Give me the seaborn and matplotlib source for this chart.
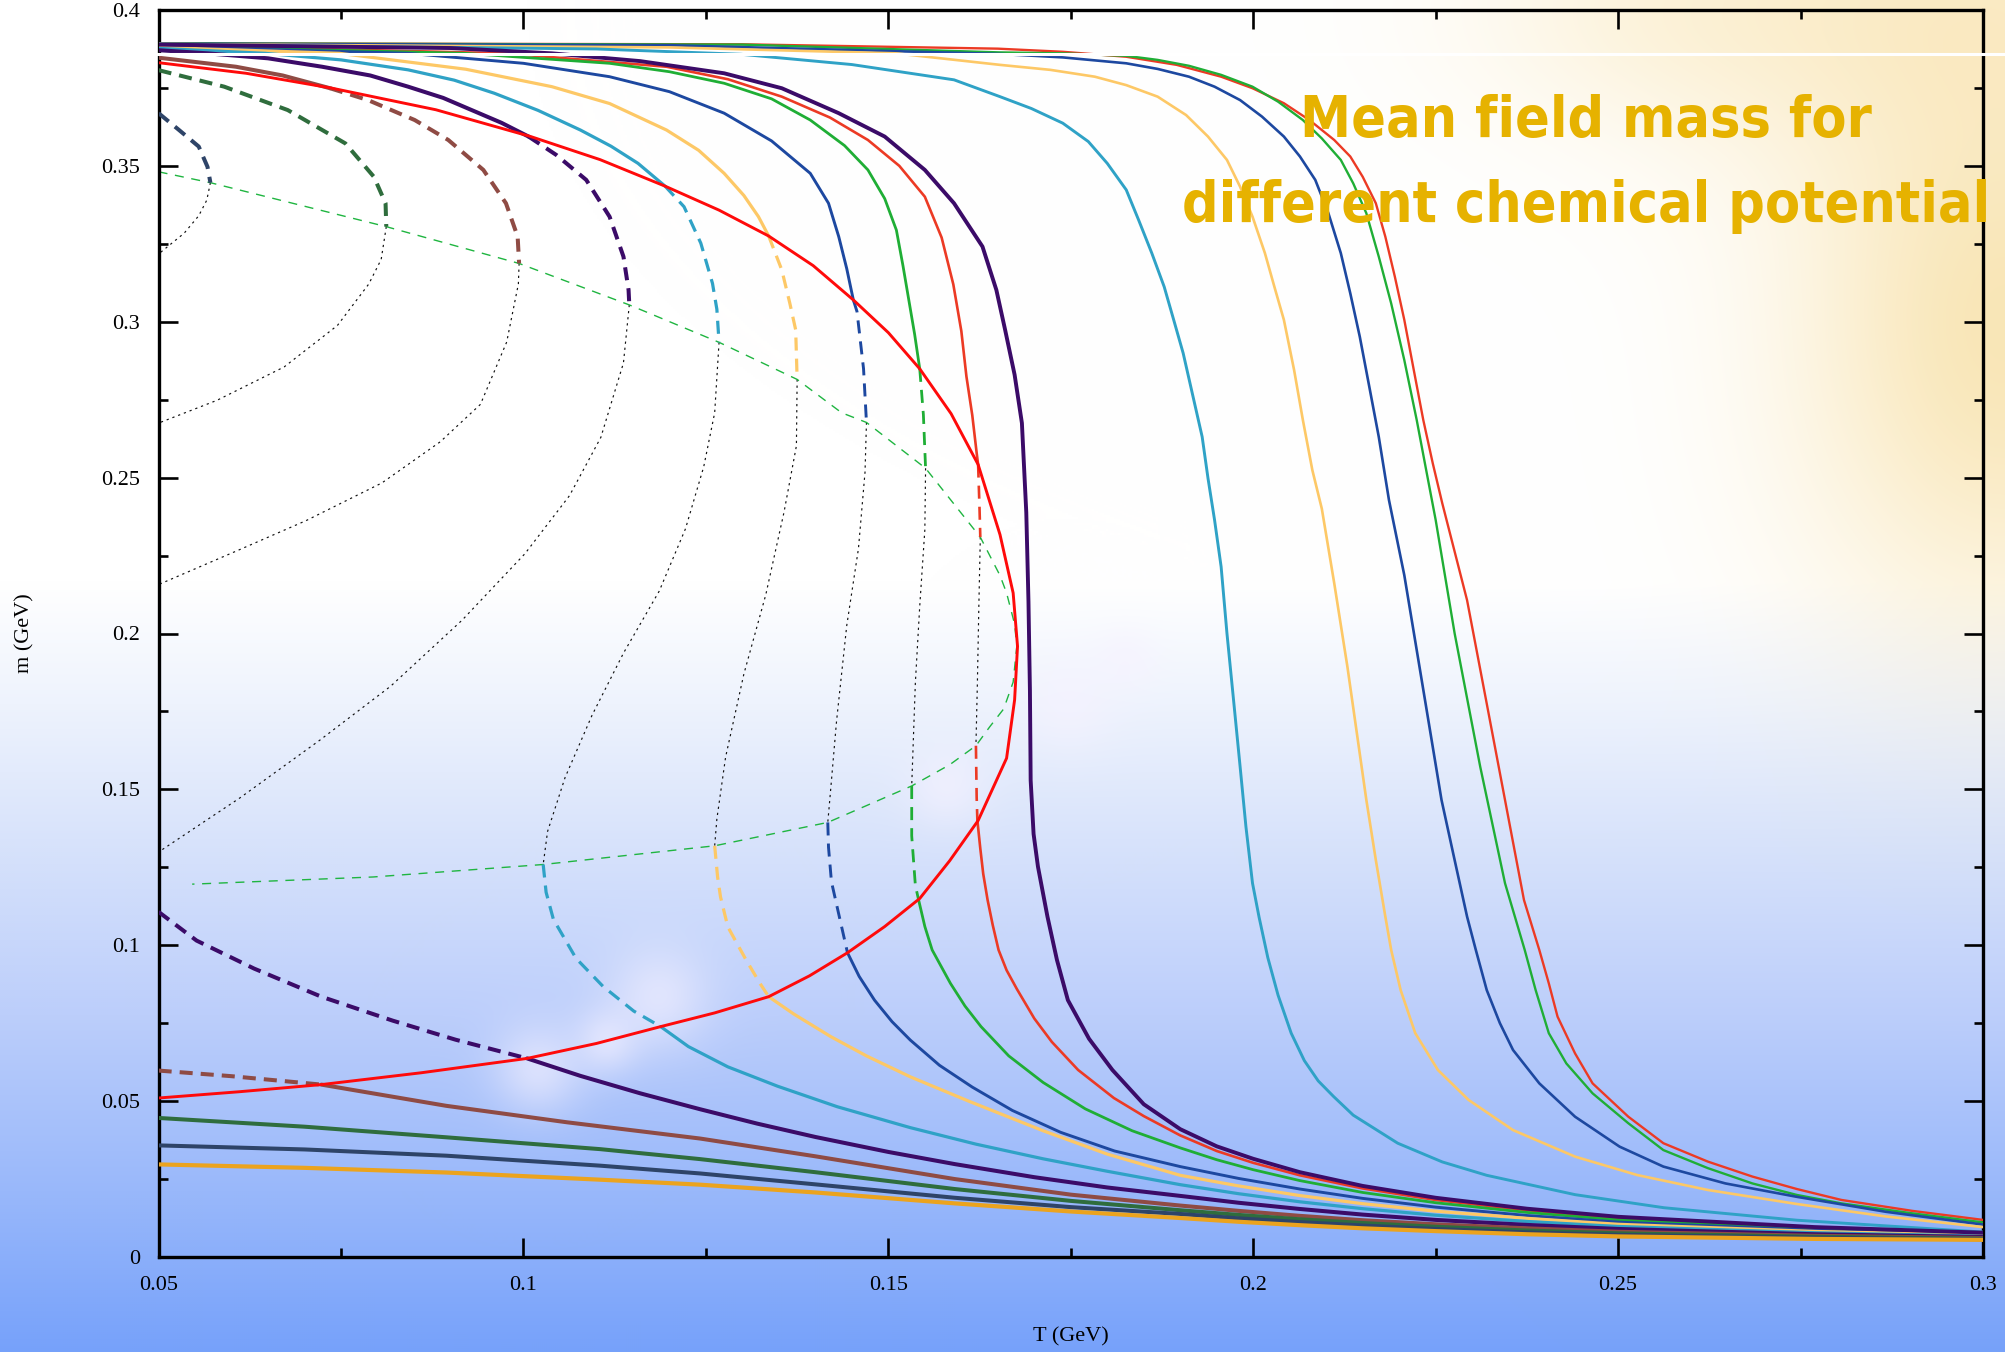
import numpy as np
import pandas as pd
import matplotlib
matplotlib.use("Agg")
import matplotlib.pyplot as plt
import seaborn as sns
from matplotlib.lines import Line2D

# ---------------------------------------------------------------------------
# Mean-field mass m(T) (GeV) for a sequence of quark chemical potentials.
# Each first-order curve is split into stable / metastable / unstable parts.
# Points are (T, m).
# ---------------------------------------------------------------------------

# crossover curves (small chemical potential)
red2 = [(0.05, 0.3893), (0.13, 0.3890), (0.165, 0.3876), (0.1739, 0.3866), (0.1826, 0.3850),
        (0.1895, 0.3824), (0.1956, 0.3786), (0.1999, 0.3749), (0.2042, 0.3701), (0.2077, 0.3647),
        (0.2111, 0.3583), (0.2133, 0.3530), (0.2150, 0.3465), (0.2168, 0.3380), (0.2181, 0.3273),
        (0.2194, 0.3145), (0.2207, 0.3006), (0.2220, 0.2845), (0.2233, 0.2685), (0.2246, 0.2546),
        (0.2259, 0.2418), (0.2293, 0.2107), (0.2319, 0.1787), (0.2345, 0.1466), (0.2371, 0.1145),
        (0.2392, 0.0985), (0.2405, 0.0878), (0.2417, 0.0771), (0.2441, 0.0653), (0.2465, 0.0557),
        (0.2514, 0.0450), (0.2562, 0.0365), (0.2623, 0.0306), (0.2684, 0.0258), (0.2745, 0.0218),
        (0.2806, 0.0183), (0.2903, 0.0148), (0.3, 0.0119)]
green2 = [(0.05, 0.3893), (0.13, 0.3889), (0.1653, 0.3864), (0.1739, 0.3861), (0.1826, 0.3853),
          (0.1869, 0.3840), (0.1912, 0.3821), (0.1956, 0.3792), (0.1999, 0.3754), (0.2034, 0.3706),
          (0.2068, 0.3647), (0.2094, 0.3588), (0.2120, 0.3519), (0.2137, 0.3444), (0.2155, 0.3348),
          (0.2172, 0.3209), (0.2189, 0.3059), (0.2207, 0.2877), (0.2224, 0.2685), (0.2237, 0.2524),
          (0.2250, 0.2364), (0.2276, 0.2000), (0.2311, 0.1573), (0.2345, 0.1199), (0.2372, 0.0985),
          (0.2387, 0.0856), (0.2405, 0.0718), (0.2429, 0.0621), (0.2465, 0.0525), (0.2514, 0.0429),
          (0.2562, 0.0343), (0.2623, 0.0285), (0.2684, 0.0236), (0.2745, 0.0199), (0.2806, 0.0172),
          (0.2903, 0.0140), (0.3, 0.0111)]
blue2 = [(0.05, 0.3892), (0.12, 0.3887), (0.1653, 0.3859), (0.1739, 0.3848), (0.1826, 0.3829),
         (0.1869, 0.3811), (0.1912, 0.3786), (0.1947, 0.3754), (0.1982, 0.3711), (0.2012, 0.3658),
         (0.2042, 0.3594), (0.2064, 0.3530), (0.2085, 0.3455), (0.2103, 0.3348), (0.2120, 0.3220),
         (0.2133, 0.3091), (0.2146, 0.2952), (0.2159, 0.2792), (0.2172, 0.2631), (0.2186, 0.2428),
         (0.2207, 0.2187), (0.2224, 0.1947), (0.2241, 0.1707), (0.2258, 0.1466), (0.2276, 0.1273),
         (0.2293, 0.1092), (0.2305, 0.0985), (0.2320, 0.0856), (0.2338, 0.0750), (0.2356, 0.0664),
         (0.2392, 0.0557), (0.2441, 0.0450), (0.2502, 0.0354), (0.2562, 0.0290), (0.2647, 0.0236),
         (0.2745, 0.0193), (0.2867, 0.0145), (0.3, 0.0104)]
lorange2 = [(0.05, 0.3891), (0.12, 0.3880), (0.151, 0.3861), (0.1653, 0.3824), (0.1722, 0.3808),
            (0.1783, 0.3786), (0.1826, 0.3759), (0.1869, 0.3722), (0.1908, 0.3663), (0.1938, 0.3594),
            (0.1964, 0.3519), (0.1982, 0.3433), (0.1999, 0.3337), (0.2016, 0.3220), (0.2029, 0.3112),
            (0.2042, 0.3006), (0.2056, 0.2845), (0.2068, 0.2685), (0.2081, 0.2524), (0.2094, 0.2400),
            (0.2111, 0.2161), (0.2129, 0.1894), (0.2142, 0.1680), (0.2155, 0.1466), (0.2168, 0.1273),
            (0.2181, 0.1092), (0.2189, 0.0985), (0.2202, 0.0856), (0.2222, 0.0718), (0.2253, 0.0600),
            (0.2295, 0.0504), (0.2356, 0.0407), (0.2441, 0.0322), (0.2526, 0.0263), (0.2623, 0.0215),
            (0.2745, 0.0170), (0.2867, 0.0130), (0.3, 0.0096)]
cyan2 = [(0.05, 0.3890), (0.11, 0.3875), (0.1298, 0.3858), (0.145, 0.3825), (0.159, 0.3776),
         (0.1653, 0.3722), (0.1696, 0.3684), (0.1739, 0.3637), (0.1774, 0.3578), (0.1800, 0.3508),
         (0.1826, 0.3423), (0.1843, 0.3326), (0.1861, 0.3220), (0.1878, 0.3112), (0.1891, 0.3006),
         (0.1904, 0.2899), (0.1917, 0.2765), (0.1930, 0.2631), (0.1938, 0.2498), (0.1947, 0.2364),
         (0.1956, 0.2214), (0.1964, 0.2000), (0.1973, 0.1787), (0.1982, 0.1573), (0.1990, 0.1380),
         (0.1999, 0.1199), (0.2008, 0.1090), (0.2020, 0.0960), (0.2034, 0.0840), (0.2052, 0.0718),
         (0.2070, 0.0630), (0.2089, 0.0565), (0.2110, 0.0515), (0.2137, 0.0455), (0.2198, 0.0365),
         (0.2259, 0.0305), (0.2320, 0.0262), (0.2441, 0.0200), (0.2563, 0.0158), (0.2745, 0.0118),
         (0.3, 0.0080)]
purple2 = [(0.05, 0.3889), (0.09, 0.3878), (0.1039, 0.3861), (0.1160, 0.3836), (0.1275, 0.3797),
           (0.1354, 0.3749), (0.1432, 0.3669), (0.1495, 0.3594), (0.1550, 0.3487), (0.1590, 0.3380),
           (0.1629, 0.3241), (0.1648, 0.3102), (0.1660, 0.2974), (0.1673, 0.2830), (0.1683, 0.2675),
           (0.1689, 0.2388), (0.1692, 0.2102), (0.1694, 0.1816), (0.1695, 0.1529), (0.1699, 0.1357),
           (0.1705, 0.1252), (0.1718, 0.1092), (0.1731, 0.0953), (0.1746, 0.0824), (0.1775, 0.0700),
           (0.1807, 0.0600), (0.1850, 0.0490), (0.1900, 0.0410), (0.1950, 0.0355), (0.2000, 0.0315),
           (0.2064, 0.0272), (0.2150, 0.0228), (0.2250, 0.0190), (0.2375, 0.0155), (0.2500, 0.0129),
           (0.2769, 0.0096), (0.3, 0.0078)]

# first-order curves: red
red_upper = [(0.05, 0.3887), (0.0976, 0.3861), (0.1196, 0.3818), (0.1280, 0.3778), (0.1354, 0.3722),
             (0.1420, 0.3655), (0.1472, 0.3583), (0.1515, 0.3500), (0.1550, 0.3401), (0.1573, 0.3270),
             (0.1589, 0.3120), (0.1600, 0.2970), (0.1607, 0.2824), (0.1615, 0.2700), (0.1621, 0.2579),
             (0.1623, 0.2542)]
red_meta_hi = [(0.1623, 0.2542), (0.1625, 0.2395), (0.1626, 0.2309)]
red_unstable = [(0.1626, 0.2309), (0.1624, 0.2088), (0.1622, 0.1842), (0.1620, 0.1640)]
red_meta_lo = [(0.1620, 0.1640), (0.1621, 0.1474), (0.1622, 0.1400)]
red_lower = [(0.1622, 0.1400), (0.1626, 0.1310), (0.1630, 0.1229), (0.1636, 0.1145), (0.1643, 0.1065),
             (0.1651, 0.0985), (0.1662, 0.0920), (0.1676, 0.0860), (0.1700, 0.0765), (0.1724, 0.0690),
             (0.1760, 0.0600), (0.1809, 0.0510), (0.1850, 0.0452), (0.1900, 0.0390), (0.1950, 0.0340),
             (0.2000, 0.0302), (0.2064, 0.0262), (0.2150, 0.0220), (0.2250, 0.0183), (0.2375, 0.0150),
             (0.2500, 0.0125), (0.2769, 0.0093), (0.3, 0.0076)]

# green
green_upper = [(0.05, 0.3885), (0.092, 0.3861), (0.1118, 0.3829), (0.1200, 0.3802), (0.1275, 0.3765),
               (0.1340, 0.3715), (0.1393, 0.3647), (0.1440, 0.3565), (0.1472, 0.3487), (0.1495, 0.3395),
               (0.1511, 0.3294), (0.1520, 0.3180), (0.1528, 0.3070), (0.1536, 0.2960), (0.1543, 0.2849)]
green_meta_hi = [(0.1543, 0.2849), (0.1548, 0.2702), (0.1551, 0.2530)]
green_unstable = [(0.1551, 0.2530), (0.1550, 0.2333), (0.1543, 0.2088), (0.1537, 0.1842), (0.1532, 0.1511)]
green_meta_lo = [(0.1532, 0.1511), (0.1532, 0.1351), (0.1537, 0.1192), (0.1541, 0.1150)]
green_lower = [(0.1541, 0.1150), (0.1550, 0.1060), (0.1560, 0.0985), (0.1585, 0.0878), (0.1605, 0.0805),
               (0.1627, 0.0739), (0.1665, 0.0645), (0.1712, 0.0560), (0.1770, 0.0475), (0.1834, 0.0405),
               (0.1900, 0.0350), (0.1950, 0.0312), (0.2000, 0.0280), (0.2064, 0.0245), (0.2150, 0.0207),
               (0.2250, 0.0174), (0.2375, 0.0143), (0.2500, 0.0119), (0.2769, 0.0089), (0.3, 0.0074)]

# blue
blue_upper = [(0.05, 0.3883), (0.0842, 0.3861), (0.1000, 0.3829), (0.1118, 0.3786), (0.1200, 0.3738),
              (0.1275, 0.3669), (0.1340, 0.3580), (0.1393, 0.3476), (0.1418, 0.3380), (0.1432, 0.3273),
              (0.1443, 0.3170), (0.1452, 0.3070)]
blue_meta_hi = [(0.1452, 0.3070), (0.1457, 0.3033), (0.1466, 0.2849), (0.1470, 0.2677)]
blue_unstable = [(0.1470, 0.2677), (0.1468, 0.2517), (0.1459, 0.2272), (0.1443, 0.2026), (0.1429, 0.1719),
                 (0.1420, 0.1474), (0.1417, 0.1394)]
blue_meta_lo = [(0.1417, 0.1394), (0.1418, 0.1314), (0.1422, 0.1204), (0.1432, 0.1100), (0.1444, 0.0976)]
blue_lower = [(0.1444, 0.0976), (0.1460, 0.0900), (0.1481, 0.0824), (0.1505, 0.0755), (0.1530, 0.0696),
              (0.1570, 0.0615), (0.1615, 0.0545), (0.1670, 0.0470), (0.1736, 0.0400), (0.1810, 0.0340),
              (0.1900, 0.0290), (0.1980, 0.0252), (0.2064, 0.0218), (0.2150, 0.0188), (0.2250, 0.0160),
              (0.2375, 0.0133), (0.2500, 0.0112), (0.2769, 0.0086), (0.3, 0.0072)]

# light orange
lorange_upper = [(0.05, 0.3880), (0.0748, 0.3861), (0.0921, 0.3810), (0.1039, 0.3754), (0.1118, 0.3700),
                 (0.1196, 0.3615), (0.1240, 0.3550), (0.1275, 0.3476), (0.1302, 0.3405), (0.1322, 0.3337),
                 (0.1336, 0.3275)]
lorange_meta_hi = [(0.1336, 0.3275), (0.1354, 0.3166), (0.1365, 0.3059), (0.1373, 0.2974), (0.1375, 0.2815)]
lorange_unstable = [(0.1375, 0.2815), (0.1374, 0.2602), (0.1357, 0.2389), (0.1332, 0.2124), (0.1302, 0.1870),
                    (0.1277, 0.1604), (0.1265, 0.1405), (0.1262, 0.1319)]
lorange_meta_lo = [(0.1262, 0.1319), (0.1266, 0.1219), (0.1270, 0.1155), (0.1280, 0.1059), (0.1305, 0.0953),
                   (0.1324, 0.0878), (0.1336, 0.0835)]
lorange_lower = [(0.1336, 0.0835), (0.1370, 0.0780), (0.1421, 0.0707), (0.1470, 0.0645), (0.1530, 0.0578),
                 (0.1610, 0.0500), (0.1712, 0.0405), (0.1800, 0.0330), (0.1900, 0.0262), (0.1980, 0.0228),
                 (0.2064, 0.0197), (0.2150, 0.0171), (0.2250, 0.0147), (0.2375, 0.0124), (0.2500, 0.0105),
                 (0.2769, 0.0082), (0.3, 0.0070)]

# cyan
cyan_upper = [(0.05, 0.3877), (0.0646, 0.3861), (0.0750, 0.3840), (0.0842, 0.3808), (0.0905, 0.3775),
              (0.0960, 0.3733), (0.1020, 0.3678), (0.1078, 0.3615), (0.1120, 0.3563), (0.1157, 0.3508),
              (0.1194, 0.3435)]
cyan_meta_hi = [(0.1194, 0.3435), (0.1220, 0.3369), (0.1243, 0.3252), (0.1259, 0.3123), (0.1265, 0.3040),
                (0.1268, 0.2934)]
cyan_unstable = [(0.1268, 0.2934), (0.1262, 0.2708), (0.1247, 0.2535), (0.1222, 0.2336), (0.1186, 0.2136),
                 (0.1137, 0.1937), (0.1094, 0.1738), (0.1057, 0.1538), (0.1033, 0.1365), (0.1027, 0.1259)]
cyan_meta_lo = [(0.1027, 0.1259), (0.1031, 0.1170), (0.1041, 0.1083), (0.1072, 0.0958), (0.1109, 0.0868),
                (0.1151, 0.0789), (0.1188, 0.0739)]
cyan_lower = [(0.1188, 0.0739), (0.1226, 0.0675), (0.1280, 0.0610), (0.1348, 0.0548), (0.1430, 0.0482),
              (0.1530, 0.0415), (0.1620, 0.0362), (0.1712, 0.0315), (0.1800, 0.0275), (0.1900, 0.0232),
              (0.1980, 0.0203), (0.2064, 0.0177), (0.2150, 0.0155), (0.2250, 0.0134), (0.2375, 0.0114),
              (0.2500, 0.0098), (0.2769, 0.0078), (0.3, 0.0067)]

# dark purple
purple_upper = [(0.05, 0.3871), (0.0567, 0.3861), (0.0650, 0.3845), (0.0724, 0.3818), (0.0790, 0.3790),
                (0.0842, 0.3754), (0.0890, 0.3718), (0.0929, 0.3679), (0.0970, 0.3638), (0.1007, 0.3594)]
purple_meta_hi = [(0.1007, 0.3594), (0.1045, 0.3535), (0.1086, 0.3455), (0.1118, 0.3337), (0.1137, 0.3209),
                  (0.1144, 0.3102), (0.1145, 0.3054)]
purple_unstable = [(0.1145, 0.3054), (0.1137, 0.2868), (0.1106, 0.2629), (0.1063, 0.2442), (0.1002, 0.2256),
                   (0.0916, 0.2043), (0.0818, 0.1831), (0.0721, 0.1658), (0.0611, 0.1472), (0.05, 0.1299)]
purple_meta_lo = [(0.05, 0.1107), (0.0552, 0.1015), (0.0631, 0.0925), (0.0723, 0.0835), (0.0821, 0.0758),
                  (0.0907, 0.0697), (0.1005, 0.0637)]
purple_lower = [(0.1005, 0.0637), (0.1078, 0.0581), (0.1160, 0.0525), (0.1242, 0.0474), (0.1320, 0.0428),
                (0.1400, 0.0385), (0.1500, 0.0337), (0.1591, 0.0298), (0.1700, 0.0256), (0.1800, 0.0223),
                (0.1900, 0.0196), (0.1980, 0.0174), (0.2064, 0.0154), (0.2150, 0.0136), (0.2250, 0.0119),
                (0.2375, 0.0103), (0.2500, 0.0090), (0.2769, 0.0073), (0.3, 0.0064)]

# brown
brown_upper = [(0.05, 0.3847), (0.0606, 0.3818), (0.0670, 0.3790), (0.0735, 0.3749)]
brown_meta_hi = [(0.0735, 0.3749), (0.0787, 0.3711), (0.0851, 0.3647), (0.0897, 0.3583), (0.0945, 0.3487),
                 (0.0976, 0.3380), (0.0992, 0.3273), (0.0994, 0.3187)]
brown_unstable = [(0.0994, 0.3187), (0.0993, 0.3121), (0.0977, 0.2935), (0.0941, 0.2735), (0.0886, 0.2615),
                  (0.0806, 0.2483), (0.0702, 0.2362), (0.0611, 0.2269), (0.05, 0.2157)]
brown_meta_lo = [(0.05, 0.0598), (0.06, 0.0580), (0.0723, 0.0553)]
brown_lower = [(0.0723, 0.0553), (0.0894, 0.0485), (0.1060, 0.0432), (0.1242, 0.0380), (0.1400, 0.0323),
               (0.1591, 0.0250), (0.1750, 0.0200), (0.1900, 0.0165), (0.1980, 0.0148), (0.2064, 0.0132),
               (0.2150, 0.0118), (0.2250, 0.0105), (0.2375, 0.0092), (0.2500, 0.0081), (0.2769, 0.0068),
               (0.3, 0.0061)]

# dark green
dgreen_meta_hi = [(0.05, 0.3807), (0.059, 0.3754), (0.0677, 0.3679), (0.0756, 0.3572), (0.0795, 0.3465),
                  (0.0811, 0.3380), (0.0812, 0.3305)]
dgreen_unstable = [(0.0812, 0.3305), (0.0805, 0.3200), (0.0788, 0.3121), (0.0745, 0.2988), (0.0672, 0.2855),
                   (0.058, 0.2748), (0.05, 0.2675)]
dgreen_lower = [(0.05, 0.0446), (0.07, 0.0418), (0.0894, 0.0384), (0.1105, 0.0346), (0.1242, 0.0314),
                (0.1400, 0.0272), (0.1591, 0.0218), (0.1750, 0.0180), (0.1900, 0.0150), (0.1980, 0.0135),
                (0.2064, 0.0121), (0.2150, 0.0109), (0.2250, 0.0097), (0.2375, 0.0085), (0.2500, 0.0076),
                (0.2769, 0.0065), (0.3, 0.0059)]

# dark slate
slate_meta_hi = [(0.05, 0.3669), (0.0528, 0.3615), (0.0555, 0.3562), (0.0567, 0.3497), (0.0571, 0.3446)]
slate_unstable = [(0.0571, 0.3446), (0.0566, 0.3390), (0.0555, 0.3340), (0.0535, 0.3284), (0.0504, 0.3225),
                  (0.05, 0.3218)]
slate_lower = [(0.05, 0.0358), (0.07, 0.0345), (0.0894, 0.0325), (0.1105, 0.0293), (0.1242, 0.0268),
               (0.1400, 0.0233), (0.1591, 0.0190), (0.1750, 0.0160), (0.1900, 0.0138), (0.1980, 0.0124),
               (0.2064, 0.0112), (0.2150, 0.0101), (0.2250, 0.0090), (0.2375, 0.0079), (0.2500, 0.0071),
               (0.2769, 0.0062), (0.3, 0.0057)]

# orange (largest chemical potential, only the low-mass branch is in range)
orange_lower = [(0.05, 0.0297), (0.07, 0.0286), (0.0894, 0.0271), (0.1105, 0.0248), (0.1242, 0.0232),
                (0.1400, 0.0207), (0.1591, 0.0172), (0.1750, 0.0146), (0.1900, 0.0125), (0.1980, 0.0113),
                (0.2064, 0.0102), (0.2150, 0.0092), (0.2250, 0.0083), (0.2375, 0.0073), (0.2500, 0.0066),
                (0.2769, 0.0058), (0.3, 0.0055)]

# coexistence (binodal) line
binodal = [(0.05, 0.3831), (0.0620, 0.3797), (0.0738, 0.3749), (0.0880, 0.3680), (0.1010, 0.3594),
           (0.1105, 0.3520), (0.1194, 0.3435), (0.1268, 0.3358), (0.1336, 0.3275), (0.1397, 0.3180),
           (0.1452, 0.3070), (0.1500, 0.2965), (0.1543, 0.2849), (0.1586, 0.2705), (0.1623, 0.2542),
           (0.1653, 0.2317), (0.1671, 0.2130), (0.1677, 0.1959), (0.1673, 0.1787), (0.1662, 0.1600),
           (0.1623, 0.1400), (0.1584, 0.1271), (0.1543, 0.1150), (0.1495, 0.1060), (0.1444, 0.0976),
           (0.1392, 0.0902), (0.1336, 0.0835), (0.1262, 0.0783), (0.1188, 0.0739), (0.1100, 0.0685),
           (0.1005, 0.0637), (0.0860, 0.0591), (0.0723, 0.0553), (0.0610, 0.0530), (0.05, 0.0510)]

# spinodal line
spinodal = [(0.05, 0.3481), (0.0571, 0.3446), (0.0812, 0.3305), (0.0994, 0.3187), (0.1145, 0.3054),
            (0.1268, 0.2934), (0.1375, 0.2815), (0.1436, 0.2708), (0.1470, 0.2677), (0.1551, 0.2530),
            (0.1626, 0.2309), (0.1653, 0.2186), (0.1662, 0.2130), (0.1673, 0.2030), (0.1676, 0.1959),
            (0.1671, 0.1844), (0.1658, 0.1758), (0.1639, 0.1701), (0.1620, 0.1640), (0.1584, 0.1579),
            (0.1532, 0.1511), (0.1417, 0.1394), (0.1262, 0.1319), (0.1027, 0.1259), (0.0794, 0.1219),
            (0.0546, 0.1196)]

x_ticks = [0.05, 0.1, 0.15, 0.2, 0.25, 0.3]
x_tick_labels = ["0.05", "0.1", "0.15", "0.2", "0.25", "0.3"]
y_ticks = [0, 0.05, 0.1, 0.15, 0.2, 0.25, 0.3, 0.35, 0.4]
y_tick_labels = ["0", "0.05", "0.1", "0.15", "0.2", "0.25", "0.3", "0.35", "0.4"]
title_lines = ["Mean field mass for", "different chemical potential"]

# ---------------------------------------------------------------------------
sns.set_theme(style="ticks")
plt.rcParams["font.family"] = ["Liberation Serif", "DejaVu Serif"]

W, H = 2005, 1352
fig = plt.figure(figsize=(W / 100, H / 100), dpi=100)

# slide-style backdrop: white to blue gradient, warm glow in the upper right
bg = fig.add_axes([0, 0, 1, 1], zorder=-10)
h, w = H // 2, W // 2
yy, xx = np.mgrid[0:h, 0:w].astype(np.float32)
yy *= H / h
xx *= W / w
fy = yy / H
stops = [0.0, 0.43, 0.52, 0.62, 0.75, 0.88, 1.0]
cols = np.array([(255, 255, 255), (255, 255, 255), (238, 243, 253), (216, 227, 251),
                 (188, 206, 251), (153, 184, 250), (118, 161, 250)]) / 255.0
img = np.stack([np.interp(fy, stops, cols[:, k]) for k in range(3)], axis=-1)


def blend(img, cx, cy, sx, sy, color, amp):
    a = amp * np.exp(-(((xx - cx) / sx) ** 2 + ((yy - cy) / sy) ** 2))
    c = np.array(color) / 255.0
    return img * (1 - a[..., None]) + c * a[..., None]


img = blend(img, 1950, 0, 350, 170, (247, 218, 150), 0.45)
img = blend(img, 2005, 330, 210, 290, (244, 210, 125), 0.55)
img = blend(img, 1690, 15, 200, 100, (250, 232, 185), 0.30)
for cx, cy, r in [(1068, 703, 45), (1125, 658, 30), (946, 786, 40), (658, 997, 50),
                  (537, 1068, 45), (606, 1040, 32)]:
    img = blend(img, cx, cy, r, r, (246, 242, 255), 0.6)
bg.imshow(np.clip(img, 0, 1), extent=[0, W, H, 0], aspect="auto", interpolation="bilinear")
bg.set_xlim(0, W)
bg.set_ylim(H, 0)
bg.axis("off")

ax = fig.add_axes([158.6 / W, 1 - 1257 / H, 1824.4 / W, 1247 / H])
ax.set_facecolor("none")

DASH_ON, DASH_OFF = 9.4, 5.8


def trace(points, color, lw, kind="solid", z=3):
    df = pd.DataFrame(points, columns=["T", "m"])
    if kind == "dashed":
        ls = (0, (DASH_ON / lw, DASH_OFF / lw))
    elif kind == "dotted":
        ls = (0, (1.9, 3.3))
    elif kind == "spin":
        ls = (0, (6.5, 5.5))
    else:
        ls = "-"
    sns.lineplot(data=df, x="T", y="m", ax=ax, sort=False, estimator=None,
                 color=color, linewidth=lw, linestyle=ls, zorder=z, legend=False)


C_RED, C_GREEN, C_BLUE = "#ec3a24", "#1fae35", "#1d48a0"
C_LOR, C_CYAN, C_PURP = "#fdc866", "#2fa2c6", "#3b0b68"
C_BROWN, C_DGREEN, C_SLATE, C_ORANGE = "#8f4b44", "#2f6d3d", "#2e4468", "#eba31e"
DOT = "#111111"

# unstable (middle) branches
for seg in [red_unstable, green_unstable, blue_unstable, lorange_unstable, cyan_unstable,
            purple_unstable, brown_unstable, dgreen_unstable, slate_unstable]:
    trace(seg, DOT, 0.85, "dotted", z=2)

trace(spinodal, "#1fb540", 1.0, "spin", z=2.5)

first_order = [
    (C_RED, 1.9, red_upper, red_meta_hi, red_meta_lo, red_lower),
    (C_GREEN, 2.0, green_upper, green_meta_hi, green_meta_lo, green_lower),
    (C_BLUE, 2.1, blue_upper, blue_meta_hi, blue_meta_lo, blue_lower),
    (C_LOR, 2.3, lorange_upper, lorange_meta_hi, lorange_meta_lo, lorange_lower),
    (C_CYAN, 2.3, cyan_upper, cyan_meta_hi, cyan_meta_lo, cyan_lower),
    (C_PURP, 2.9, purple_upper, purple_meta_hi, purple_meta_lo, purple_lower),
    (C_BROWN, 2.9, brown_upper, brown_meta_hi, brown_meta_lo, brown_lower),
]
for color, lw, up, mhi, mlo, lo in first_order:
    trace(mhi, color, lw, "dashed")
    trace(mlo, color, lw, "dashed")
    trace(up, color, lw)
    trace(lo, color, lw)

trace(dgreen_meta_hi, C_DGREEN, 2.9, "dashed")
trace(dgreen_lower, C_DGREEN, 2.9)
trace(slate_meta_hi, C_SLATE, 2.9, "dashed")
trace(slate_lower, C_SLATE, 2.9)
trace(orange_lower, C_ORANGE, 3.0)

for seg, color, lw in [(red2, C_RED, 1.7), (green2, C_GREEN, 1.7), (blue2, C_BLUE, 1.9),
                       (lorange2, C_LOR, 1.9), (cyan2, C_CYAN, 2.1), (purple2, C_PURP, 2.8)]:
    trace(seg, color, lw, z=3.5)

trace(binodal, "#ff0a0a", 2.1, z=4)

# axes styling
ax.set_xlim(0.05, 0.3)
ax.set_ylim(0, 0.4)
ax.set_xticks(x_ticks, labels=x_tick_labels)
ax.set_yticks(y_ticks, labels=y_tick_labels)
ax.set_xticks(np.arange(0.075, 0.3, 0.05), minor=True)
ax.set_yticks(np.arange(0.025, 0.4, 0.05), minor=True)
ax.tick_params(which="both", direction="in", top=True, right=True, width=1.9, color="black",
               labelsize=16, pad=13.5, labelcolor="black")
ax.tick_params(which="major", length=14)
ax.tick_params(which="minor", length=6.5)
for s in ax.spines.values():
    s.set_linewidth(2.4)
    s.set_color("black")
    s.set_visible(True)
ax.grid(False)

ax.set_xlabel("T (GeV)", fontsize=16, color="black")
ax.set_ylabel("m (GeV)", fontsize=16, color="black")
ax.xaxis.set_label_coords(0.5, -0.0642)
ax.xaxis.label.set_va("center")
ax.yaxis.set_label_coords(-0.0732, 0.5)
ax.yaxis.label.set_va("center")

# thin white rule of the slide template
fig.add_artist(Line2D([0, 1], [1 - 53.5 / H, 1 - 53.5 / H], transform=fig.transFigure,
                      color="white", lw=2.2, zorder=20))

# headline
for txt, ybase in zip(title_lines, [137, 222]):
    fig.text(1586 / W, 1 - ybase / H, txt, ha="center", va="baseline", color="#e6b200",
             fontsize=41, fontweight="bold", family=["DejaVu Sans"], fontstretch="condensed",
             zorder=30)

fig.savefig("out.png", dpi=100)
